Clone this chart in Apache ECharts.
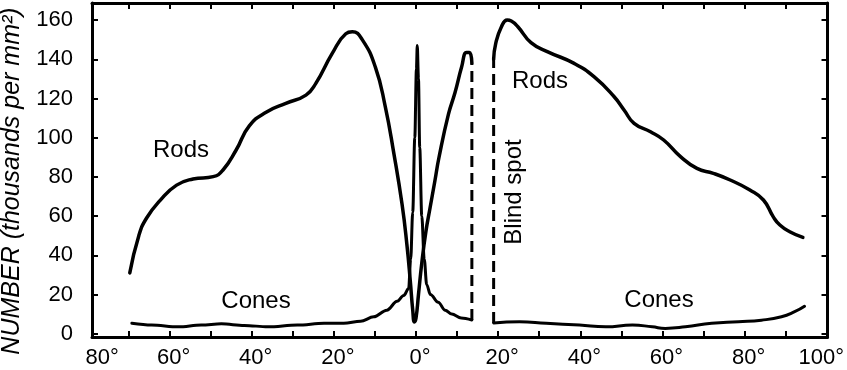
<!DOCTYPE html>
<html><head><meta charset="utf-8">
<script src="https://cdn.jsdelivr.net/npm/echarts@6/dist/echarts.min.js"></script>
<style>html,body{margin:0;padding:0;background:#fff}#c{width:847px;height:370px}</style>
</head><body><div id="c"></div>
<script>
// ---- axis ticks / labels ----
const xTickValues = [-70,-60,-50,-40,-30,-20,-10,0,10,20,30,40,50,60,70,80,90];
const xLabelValues = [-80,-60,-40,-20,0,20,40,60,80,100];
const xTickLabels = ['80°','60°','40°','20°','0°','20°','40°','60°','80°','100°'];
const yTickValues = [0,20,40,60,80,100,120,140,160];
const yTickLabels = ['0','20','40','60','80','100','120','140','160'];

// ---- data: [eccentricity in degrees (temporal negative), thousands per mm²] ----
const rodsToBlindSpot = [
  [-69.7,31],[-67.5,50],[-65.6,59],[-62.3,68],[-58.3,75.8],[-54.3,78.9],[-49.4,80.1],
  [-47.0,83.5],[-43.8,93.7],[-40.6,106],[-36.5,113],[-31.7,117.5],[-26.8,121.7],
  [-24.4,127.7],[-20.4,143],[-17.1,153],[-15.5,154],[-13.1,150],[-9.9,136],[-7.5,116],
  [-5.4,92],[-3.4,66],[-2.2,45],[-1.4,27],[-0.8,12],[-0.4,6],[0.0,8],[0.6,20],[1.4,36],
  [2.4,52],[3.4,64],[4.6,78],[5.6,90],[7.9,112],[9.5,123],[11.1,136],[12.3,143.5],
  [13.0,143.5],[13.6,138]
];
const conesToBlindSpot = [
  [-69.2,5.3],[-64.4,4.4],[-57.9,3.5],[-52.3,4.4],[-47.4,5.0],[-41.8,4.2],[-36.1,3.5],
  [-28.9,4.4],[-22.4,5.3],[-17.6,5.3],[-13.5,6.3],[-10.3,8.6],[-7.1,12],[-4.6,16.5],
  [-3.0,19.5],[-1.8,23],[-1.3,38],[-0.8,62],[-0.3,100],[0.1,135],[0.3,147],[0.6,130],
  [0.9,95],[1.4,60],[2.0,38],[2.6,25],[3.5,20],[5.4,16],[7.1,12],[8.7,10],[11.0,8],[13.6,7]
];
const rodsFromBlindSpot = [
  [18.9,140],[19.4,148],[20.8,156.6],[22.2,160],[23.2,159.5],[24.8,156.6],[28.0,148.5],
  [32.1,143.8],[38.5,137.9],[43.4,131],[48.2,121],[50.7,114],[53.1,107.3],[57.1,103],
  [60.3,98.8],[64.4,90.3],[68.4,84.3],[72.4,81.8],[76.5,78.4],[81.3,73.3],[84.6,68.2],
  [87.0,59.6],[88.6,55.4],[91.0,52],[94.2,49.1]
];
const conesFromBlindSpot = [
  [18.9,5.5],[25.2,6.1],[31.7,5.3],[39.8,4.4],[46.2,3.5],[52.7,4.4],[57.5,3.5],[60.7,2.7],
  [65.6,3.5],[72.0,5.3],[78.5,6.1],[84.1,6.9],[89.0,8.6],[92.2,11.2],[94.6,14]
];
// blind spot edges, drawn as dashed verticals joining the cone and rod curves
const blindSpotLeft = [conesToBlindSpot[conesToBlindSpot.length-1], rodsToBlindSpot[rodsToBlindSpot.length-1]];
const blindSpotRight = [conesFromBlindSpot[0], rodsFromBlindSpot[0]];

const X_MIN = -78.9, X_MAX = 100.2, Y_MIN = -1.7, Y_MAX = 168.7;
const FONT = 'Liberation Sans, Arial, sans-serif';

const labelPos = xLabelValues.map(v => Math.min(Math.max(v, X_MIN + 1.5), X_MAX - 2.5));
function nearestLabel(v) {
  let best = 0;
  for (let i = 0; i < labelPos.length; i++) if (Math.abs(labelPos[i]-v) < Math.abs(labelPos[best]-v)) best = i;
  return xTickLabels[best];
}

const frameLine = {show:true, onZero:false, lineStyle:{color:'#000', width:3}};
const tickStyle = {show:true, inside:true, length:6, lineStyle:{color:'#000', width:2}};

function xAx(pos, withLabels) {
  return {
    type:'value', position:pos, min:X_MIN, max:X_MAX,
    axisLine: frameLine,
    axisTick: Object.assign({customValues:xTickValues}, tickStyle),
    axisLabel: withLabels ? {
      show:true, customValues:labelPos, formatter:v => nearestLabel(v),
      color:'#000', fontFamily:FONT, fontSize:22, margin:10, padding:[0,0,0,8]
    } : {show:false},
    splitLine:{show:false}
  };
}
function yAx(pos, withLabels) {
  return {
    type:'value', position:pos, min:Y_MIN, max:Y_MAX,
    axisLine: frameLine,
    axisTick: Object.assign({customValues:yTickValues}, tickStyle),
    axisLabel: withLabels ? {
      show:true, customValues:yTickValues,
      formatter:v => yTickLabels[yTickValues.indexOf(Math.round(v))],
      color:'#000', fontFamily:FONT, fontSize:22, margin:19
    } : {show:false},
    splitLine:{show:false}
  };
}

function curve(name, data, width, smooth, mono) {
  const s = {name, type:'line', data, showSymbol:false, smooth,
    lineStyle:{color:'#000', width, join:'round', cap:'round'}, animation:false, z:3};
  if (mono) s.smoothMonotone = 'x';
  return s;
}
function dashed(name, data) {
  return {name, type:'line', data, showSymbol:false,
    lineStyle:{color:'#000', width:3, type:[11,6]}, animation:false, z:3};
}

const txt = (text, x, y, size, extra) => Object.assign({
  type:'text', x, y,
  style:{text, font:`${size}px ${FONT}`, fill:'#000', align:'center', verticalAlign:'middle'}
}, extra || {});

const chart = echarts.init(document.getElementById('c'), null, {renderer:'canvas'});
chart.setOption({
  backgroundColor:'#fff',
  animation:false,
  grid:{left:92, right:15.5, top:3, bottom:33, containLabel:false},
  xAxis:[xAx('bottom', true), xAx('top', false)],
  yAxis:[yAx('left', true), yAx('right', false)],
  series:[
    curve('Rods', rodsToBlindSpot, 3.5, 0.5, false),
    curve('Cones', conesToBlindSpot, 3, 0.35, true),
    curve('Rods nasal', rodsFromBlindSpot, 3.5, 0.5, false),
    curve('Cones nasal', conesFromBlindSpot, 3, 0.5, false),
    dashed('Blind spot edge 1', blindSpotLeft),
    dashed('Blind spot edge 2', blindSpotRight)
  ],
  graphic:[
    {type:'text', x:12, y:181, rotation:Math.PI/2,
     style:{text:'NUMBER (thousands per mm²)', font:`italic 25px ${FONT}`, fill:'#000', align:'center', verticalAlign:'middle'}},
    txt('Rods', 181, 150, 24),
    txt('Cones', 256, 301, 24),
    txt('Rods', 540, 81, 24),
    txt('Cones', 659, 300, 24),
    txt('Blind spot', 514, 192, 24, {rotation:Math.PI/2})
  ]
});
</script>
</body></html>
